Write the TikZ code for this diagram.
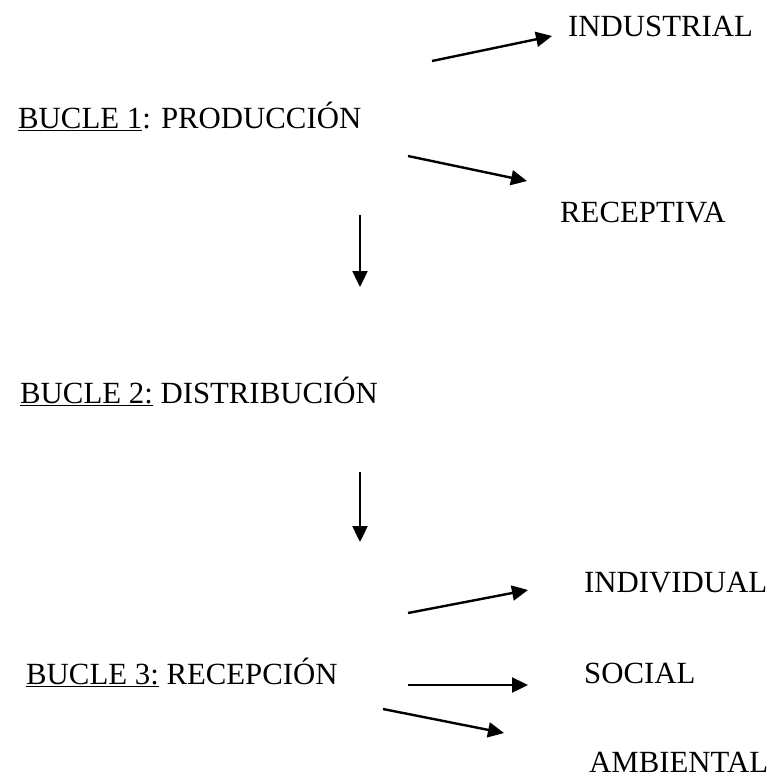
\documentclass[tikz,border=0pt]{standalone}
\usepackage{fontspec}
\setmainfont{Liberation Serif}
\usetikzlibrary{arrows.meta}
\begin{document}
\begin{tikzpicture}[x=1pt,y=-1pt,
  lbl/.style={anchor=base west,inner sep=0pt,font=\fontsize{30.8}{36}\selectfont},
  arr/.style={line width=2.4pt,-{Triangle[length=16pt,width=15pt]}}]
\useasboundingbox (0,0) rectangle (773,780);
\node[lbl] (ind) at (568,36) {INDUSTRIAL};
\node[lbl] (b1) at (18,128) {\underline{BUCLE 1}: PRODUCCIÓN};
\node[lbl] (rec) at (560,222) {RECEPTIVA};
\node[lbl] (b2) at (20,403) {\underline{BUCLE 2:} DISTRIBUCIÓN};
\node[lbl] (indv) at (584,592) {INDIVIDUAL};
\node[lbl] (b3) at (26,684) {\underline{BUCLE 3:} RECEPCIÓN};
\node[lbl] (soc) at (584,683) {SOCIAL};
\node[lbl] (amb) at (589,772) {AMBIENTAL};
\coordinate (a1s) at (432,61);  \coordinate (a1e) at (552,36);
\coordinate (a2s) at (408,156); \coordinate (a2e) at (527,181);
\coordinate (d1s) at (360,215); \coordinate (d1e) at (360,287);
\coordinate (d2s) at (360,472); \coordinate (d2e) at (360,542);
\coordinate (a3s) at (408,613); \coordinate (a3e) at (528,590);
\coordinate (a4s) at (408,685); \coordinate (a4e) at (528,685);
\coordinate (a5s) at (383,709); \coordinate (a5e) at (504,733);
\draw[arr] (a1s) -- (a1e);
\draw[arr] (a2s) -- (a2e);
\draw[arr] (d1s) -- (d1e);
\draw[arr] (d2s) -- (d2e);
\draw[arr] (a3s) -- (a3e);
\draw[arr] (a4s) -- (a4e);
\draw[arr] (a5s) -- (a5e);
\end{tikzpicture}
\end{document}
